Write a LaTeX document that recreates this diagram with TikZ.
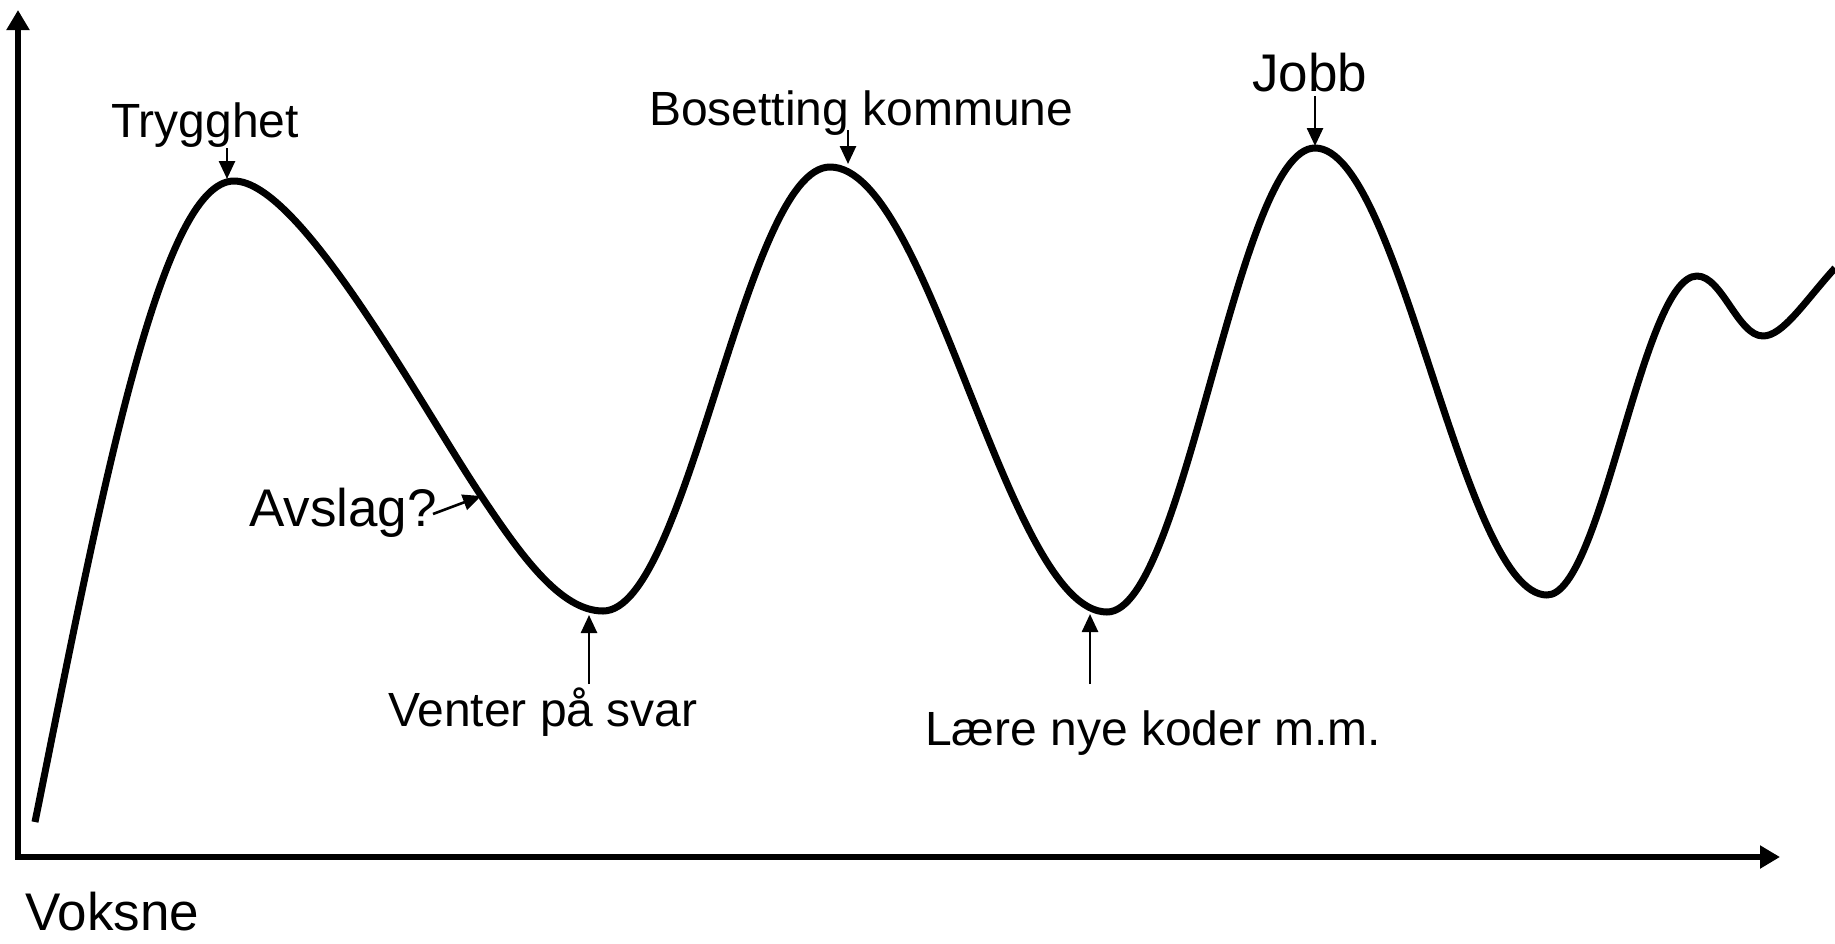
\documentclass[tikz,border=0pt]{standalone}
\usepackage{fontspec}
\setmainfont{Liberation Sans}
\usetikzlibrary{arrows.meta}
\begin{document}
\begin{tikzpicture}[x=1pt,y=-1pt,
  axisline/.style={line width=6.5pt,line join=miter,{Triangle[width=22pt,length=20pt]}-{Triangle[width=22pt,length=20pt]}},
  wave/.style={line width=7pt,line join=round},
  pointer/.style={line width=2.6pt,-{Triangle[width=16pt,length=18pt]}},
  lbl/.style={inner sep=0pt,anchor=base west,font=\fontsize{48}{58}\selectfont},
  biglbl/.style={lbl,font=\fontsize{53}{63}\selectfont}]
\useasboundingbox (0,0) rectangle (1835,943);
% axes
\coordinate (ytip) at (18,10);
\coordinate (origin) at (18,857);
\coordinate (xtip) at (1780,857);
\draw[axisline] (ytip) -- (origin) -- (xtip);
% curve
\coordinate (s0) at (35,822);
\coordinate (pk1) at (234,181);
\coordinate (m1) at (480,494);
\coordinate (tr1) at (603,611);
\coordinate (pk2) at (830,167);
\coordinate (tr2) at (1107,612);
\coordinate (pk3) at (1315,148);
\coordinate (tr3) at (1547,595);
\coordinate (pk4) at (1697,276);
\coordinate (tr4) at (1763,336);
\coordinate (e0) at (1835,268);
\draw[wave] (s0)
  .. controls (100,500) and (160,181) .. (pk1)
  .. controls (300,181) and (420,404) .. (m1)
  .. controls (520,554) and (560,611) .. (tr1)
  .. controls (688,611) and (745,167) .. (pk2)
  .. controls (930,167) and (1007,612) .. (tr2)
  .. controls (1185,612) and (1237,148) .. (pk3)
  .. controls (1400,148) and (1462,595) .. (tr3)
  .. controls (1602,595) and (1642,276) .. (pk4)
  .. controls (1722,276) and (1738,336) .. (tr4)
  .. controls (1783,336) and (1805,301) .. (e0);
% labels
\node[lbl] (trygghet) at (111,137) {Trygghet};
\node[lbl] (bosetting) at (649,125) {Bosetting kommune};
\node[biglbl] (jobb) at (1252,91) {Jobb};
\node[biglbl] (avslag) at (249,526) {Avslag?};
\node[lbl] (venter) at (388,726) {Venter på svar};
\node[lbl] (laere) at (925,745) {Lære nye koder m.m.};
\node[biglbl] (voksne) at (25,930) {Voksne};
% pointer ends
\coordinate (a1s) at (227,148); \coordinate (a1e) at (227,179);
\coordinate (a2s) at (848,130); \coordinate (a2e) at (848,164);
\coordinate (a3s) at (1315,96); \coordinate (a3e) at (1315,146);
\coordinate (a4s) at (433,514); \coordinate (a4e) at (481,496);
\coordinate (a5s) at (589,684); \coordinate (a5e) at (589,615);
\coordinate (a6s) at (1090,684); \coordinate (a6e) at (1090,614);
\draw[pointer] (a1s) -- (a1e);
\draw[pointer] (a2s) -- (a2e);
\draw[pointer] (a3s) -- (a3e);
\draw[pointer] (a4s) -- (a4e);
\draw[pointer] (a5s) -- (a5e);
\draw[pointer] (a6s) -- (a6e);
\end{tikzpicture}
\end{document}
